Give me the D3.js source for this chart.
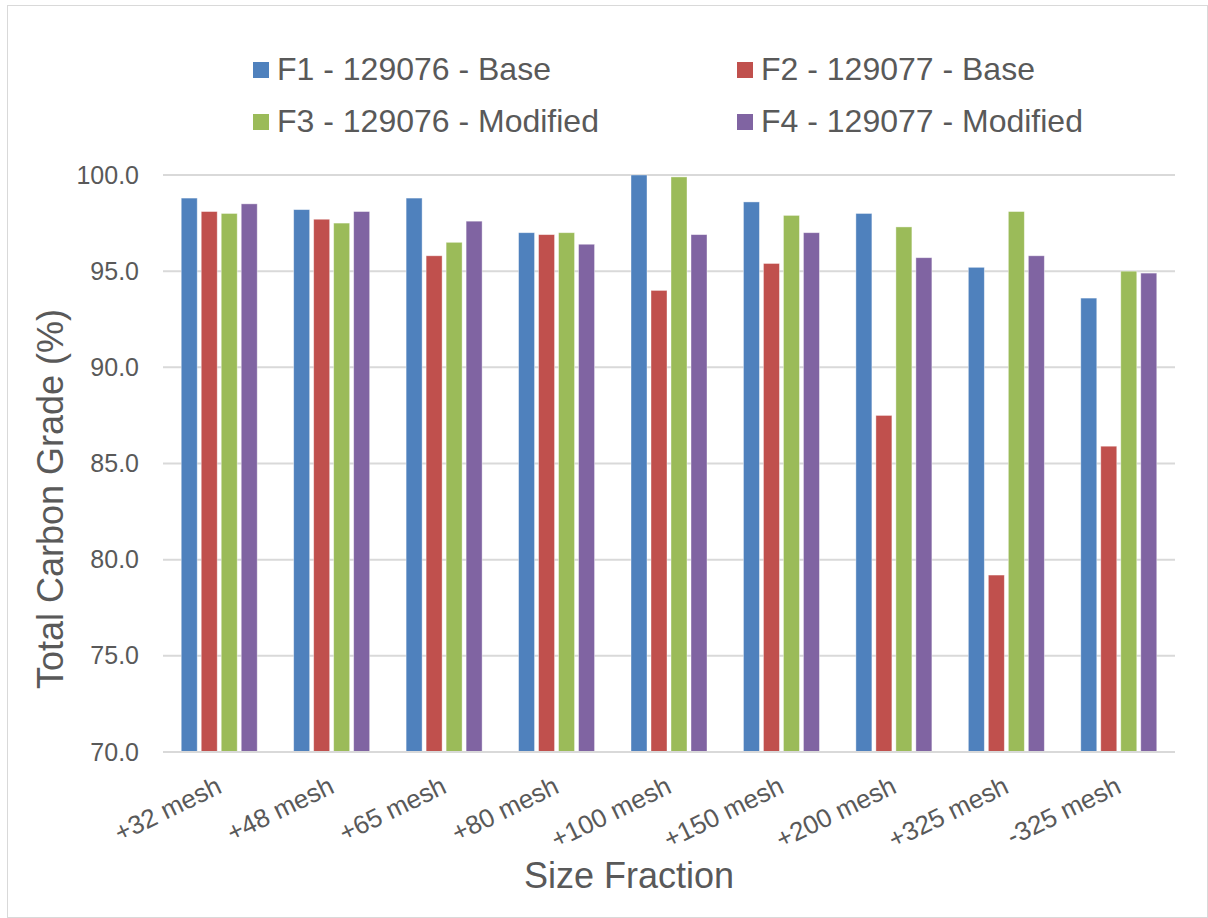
<!DOCTYPE html>
<html><head><meta charset="utf-8">
<script src="https://cdn.jsdelivr.net/npm/d3@7"></script>
<style>body{margin:0;background:#fff;} text{font-family:"Liberation Sans",Arial,sans-serif;fill:#595959;}</style>
</head><body>
<svg id="chart" width="1208" height="918"></svg>
<script>
const categories = ["+32 mesh","+48 mesh","+65 mesh","+80 mesh","+100 mesh","+150 mesh","+200 mesh","+325 mesh","-325 mesh"];
const seriesNames = ["F1 - 129076 - Base","F2 - 129077 - Base","F3 - 129076 - Modified","F4 - 129077 - Modified"];
const f1 = [98.8, 98.2, 98.8, 97.0, 100.0, 98.6, 98.0, 95.2, 93.6];
const f2 = [98.1, 97.7, 95.8, 96.9, 94.0, 95.4, 87.5, 79.2, 85.9];
const f3 = [98.0, 97.5, 96.5, 97.0, 99.9, 97.9, 97.3, 98.1, 95.0];
const f4 = [98.5, 98.1, 97.6, 96.4, 96.9, 97.0, 95.7, 95.8, 94.9];
const yTicks = [70, 75, 80, 85, 90, 95, 100];
const colors = ["#4F81BD","#C0504D","#9BBB59","#8064A2"];
const seriesValues = [f1, f2, f3, f4];

const svg = d3.select("#chart");
svg.append("rect").attr("x",7.5).attr("y",5.5).attr("width",1200).attr("height",912)
  .attr("fill","#fff").attr("stroke","#d9d9d9").attr("stroke-width",1);

const pLeft = 163, pRight = 1175, pTop = 175, pBottom = 752;
const y = d3.scaleLinear().domain([70,100]).range([pBottom, pTop]);
const x0 = d3.scaleBand().domain(categories).range([pLeft, pRight]);
const inner = 80;
const x1 = d3.scaleBand().domain(d3.range(4)).range([0, inner]).paddingInner(0.2).paddingOuter(0.1);
const off = (x0.bandwidth() - inner) / 2;

// gridlines
svg.append("g").selectAll("line").data(yTicks).join("line")
  .attr("x1", pLeft).attr("x2", pRight)
  .attr("y1", d => y(d)).attr("y2", d => y(d))
  .attr("stroke", "#d9d9d9").attr("stroke-width", 2);

// y axis labels
const yAxis = d3.axisLeft(y).tickValues(yTicks).tickFormat(d3.format(".1f")).tickSize(0).tickPadding(24);
const ya = svg.append("g").attr("transform", `translate(${pLeft},0)`).call(yAxis);
ya.select(".domain").remove();
ya.selectAll("text").style("font-size","25px").style("fill","#595959").style("font-family","Liberation Sans, Arial, sans-serif");

// bars
seriesValues.forEach((vals, si) => {
  svg.append("g").selectAll("rect").data(vals).join("rect")
    .attr("x", (d,i) => x0(categories[i]) + off + x1(si))
    .attr("width", x1.bandwidth())
    .attr("y", d => y(d))
    .attr("height", d => y(70) - y(d))
    .attr("fill", colors[si])
    .attr("stroke", "#ffffff").attr("stroke-opacity", 0.5).attr("stroke-width", 0.8);
});

// x axis line on top of bars
svg.append("line").attr("x1", pLeft).attr("x2", pRight).attr("y1", y(70)).attr("y2", y(70))
  .attr("stroke", "#d9d9d9").attr("stroke-width", 2);

// x labels
const xAxis = d3.axisBottom(x0).tickSize(0).tickPadding(0);
const xa = svg.append("g").attr("transform", `translate(0,${pBottom})`).call(xAxis);
xa.select(".domain").remove();
xa.selectAll("text")
  .style("font-size","26px").style("fill","#595959").style("font-family","Liberation Sans, Arial, sans-serif")
  .attr("text-anchor","end").attr("dy", null).attr("y", 0)
  .attr("transform", "translate(4,40) rotate(-26)");

// axis titles
svg.append("text").attr("x", 629).attr("y", 888).attr("text-anchor","middle")
  .style("font-size","36px").text("Size Fraction");
svg.append("text").attr("transform", `translate(63,499) rotate(-90)`).attr("text-anchor","middle")
  .style("font-size","36px").text("Total Carbon Grade (%)");

// legend
const legPos = [[253,70],[737,70],[253,122],[737,122]];
seriesNames.forEach((n, i) => {
  const g = svg.append("g").attr("transform", `translate(${legPos[i][0]},${legPos[i][1]})`);
  g.append("rect").attr("x",0).attr("y",-8).attr("width",16).attr("height",16).attr("fill",colors[i]);
  g.append("text").attr("x",24).attr("y",10).style("font-size","32px").text(n);
});
</script>
</body></html>
